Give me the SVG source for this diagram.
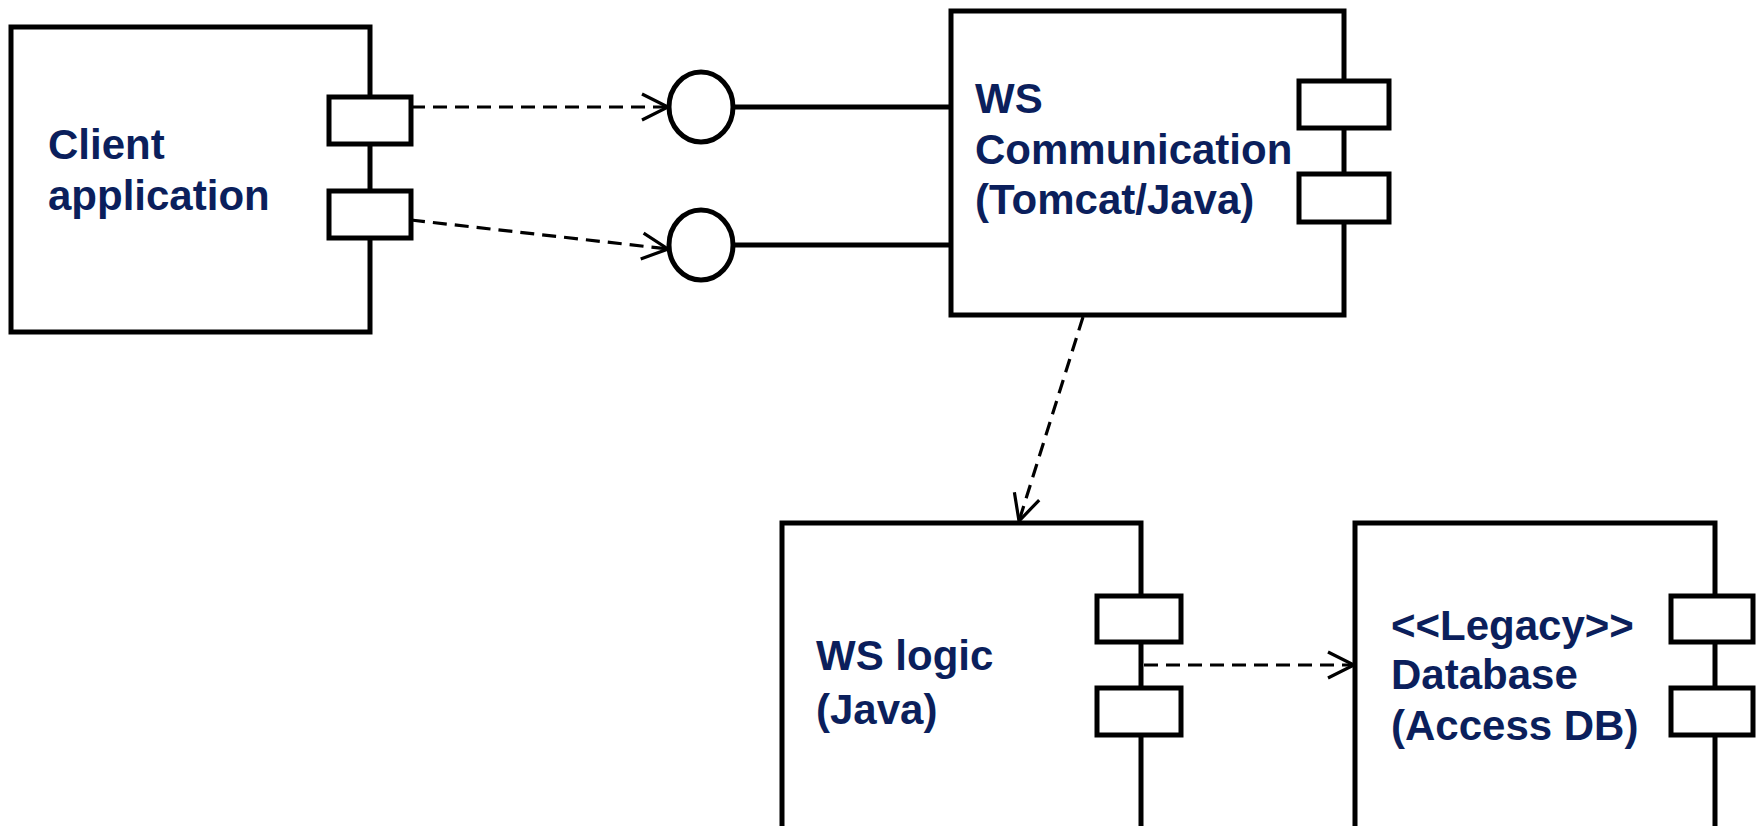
<svg xmlns="http://www.w3.org/2000/svg" width="1759" height="826" viewBox="0 0 1759 826">
<style>
.box{fill:#fff;stroke:#000;stroke-width:5}
.port{fill:#fff;stroke:#000;stroke-width:5}
.lbl{font-family:"Liberation Sans",Arial,sans-serif;font-weight:bold;font-size:42px;fill:#0b1f5c}
.dep{fill:none;stroke:#000;stroke-width:3.2;stroke-dasharray:14 8}
.solid{fill:none;stroke:#000;stroke-width:5}
.iface{fill:#fff;stroke:#000;stroke-width:5}
</style>
<defs>
<marker id="open" viewBox="0 0 30 30" refX="28" refY="15" markerWidth="30" markerHeight="30" markerUnits="userSpaceOnUse" orient="auto">
<path d="M2,2 L28,15 L2,28" fill="none" stroke="#000" stroke-width="3.2"/>
</marker>
</defs>
<rect width="1759" height="826" fill="#fff"/>
<g id="client">
<rect class="box" x="11" y="27" width="359" height="305"/>
<rect class="port" x="329" y="97" width="82" height="47"/>
<rect class="port" x="329" y="191" width="82" height="47"/>
<text class="lbl" x="48" y="159">Client</text>
<text class="lbl" x="48" y="210">application</text>
</g>
<g id="iface1"><ellipse class="iface" cx="701" cy="107" rx="32" ry="35"/></g>
<g id="iface2"><ellipse class="iface" cx="701" cy="245" rx="32" ry="35"/></g>
<g id="wscomm">
<rect class="box" x="951" y="11" width="393" height="304"/>
<rect class="port" x="1299" y="81" width="90" height="47"/>
<rect class="port" x="1299" y="174" width="90" height="48"/>
<text class="lbl" x="975" y="113">WS</text>
<text class="lbl" x="975" y="164">Communication</text>
<text class="lbl" x="975" y="214">(Tomcat/Java)</text>
</g>
<g id="wslogic">
<rect class="box" x="782" y="523" width="359" height="320"/>
<rect class="port" x="1097" y="596" width="84" height="46"/>
<rect class="port" x="1097" y="688" width="84" height="47"/>
<text class="lbl" x="816" y="670">WS logic</text>
<text class="lbl" x="816" y="724">(Java)</text>
</g>
<g id="database">
<rect class="box" x="1355" y="523" width="360" height="320"/>
<rect class="port" x="1671" y="596" width="82" height="46"/>
<rect class="port" x="1671" y="688" width="82" height="47"/>
<text class="lbl" x="1391" y="640">&lt;&lt;Legacy&gt;&gt;</text>
<text class="lbl" x="1391" y="689">Database</text>
<text class="lbl" x="1391" y="740">(Access DB)</text>
</g>
<g id="connectors">
<line class="solid" x1="733" y1="107" x2="951" y2="107"/>
<line class="solid" x1="733" y1="245" x2="951" y2="245"/>
<line class="dep" x1="411" y1="107" x2="668" y2="107" marker-end="url(#open)"/>
<line class="dep" x1="411" y1="220" x2="668" y2="249" marker-end="url(#open)"/>
<line class="dep" x1="1083" y1="317" x2="1019" y2="521" marker-end="url(#open)"/>
<line class="dep" x1="1144" y1="665" x2="1354" y2="665" marker-end="url(#open)"/>
</g>
</svg>
